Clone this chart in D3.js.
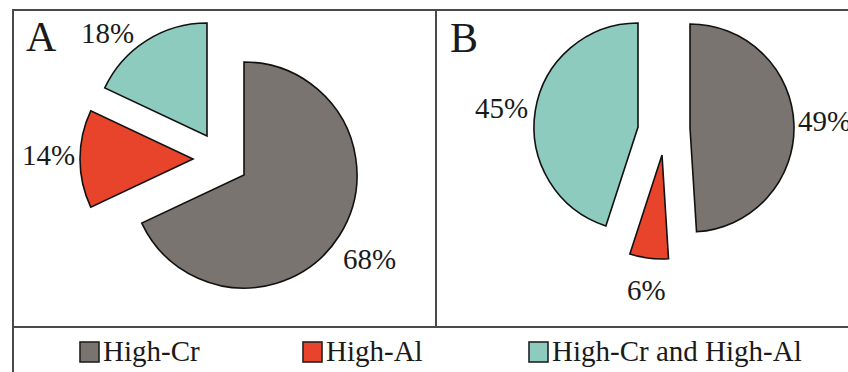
<!DOCTYPE html>
<html><head><meta charset="utf-8">
<script src="https://cdn.jsdelivr.net/npm/d3@7"></script>
<style>body{margin:0;background:#fff} svg{display:block}</style>
</head><body><svg id="c" width="848" height="372"></svg>
<script>
// ---- data ----
const categories = ["High-Cr", "High-Al", "High-Cr and High-Al"];
const panelNames = ["A", "B"];
const valuesA = [68, 14, 18];
const valuesB = [49, 6, 45];
const labelsA = ["68%", "14%", "18%"];
const labelsB = ["49%", "6%", "45%"];

// ---- style / layout ----
const colors = ["#7a7471", "#e8442b", "#8ccbbe"];
const FONT = "'Liberation Serif','Times New Roman',serif";
const layout = [
  { values: valuesA, labels: labelsA, cx: 244, cy: 175, r: 113,
    offsets: [[0, 0], [-51, -16], [-37, -39]],
    labelPos: [[343, 269], [22, 165], [81, 43]], letter: [26, 51] },
  { values: valuesB, labels: labelsB, cx: 690, cy: 128, r: 104,
    offsets: [[0, 0], [-28, 27], [-52, -1]],
    labelPos: [[798, 131], [627, 300], [475, 118]], letter: [450, 52] }
];
const legendX = [80, 303, 529];

const svg = d3.select("#c");
const color = d3.scaleOrdinal().domain(categories).range(colors);
const pie = d3.pie().sort(null).value(d => d);

// frame
const frame = svg.append("g").attr("stroke", "#4a4a4a").attr("stroke-width", 2);
frame.append("line").attr("x1", 13).attr("y1", 10).attr("x2", 13).attr("y2", 372);
frame.append("line").attr("x1", 12).attr("y1", 10).attr("x2", 848).attr("y2", 10);
frame.append("line").attr("x1", 436).attr("y1", 10).attr("x2", 436).attr("y2", 327);
frame.append("line").attr("x1", 13).attr("y1", 327).attr("x2", 848).attr("y2", 327);

layout.forEach((p, pi) => {
  const arc = d3.arc().innerRadius(0).outerRadius(p.r);
  const arcs = pie(p.values);
  const g = svg.append("g").attr("transform", `translate(${p.cx},${p.cy})`);
  g.selectAll("path").data(arcs).join("path")
    .attr("d", arc)
    .attr("transform", (d, i) => `translate(${p.offsets[i][0]},${p.offsets[i][1]})`)
    .attr("fill", (d, i) => color(categories[i]))
    .attr("stroke", "#111")
    .attr("stroke-width", 1.6)
    .attr("stroke-linejoin", "miter");
  svg.selectAll(null).data(p.labels).join("text")
    .attr("x", (d, i) => p.labelPos[i][0])
    .attr("y", (d, i) => p.labelPos[i][1])
    .attr("font-family", FONT).attr("font-size", 29).attr("fill", "#1a1a1a")
    .text(d => d);
  svg.append("text")
    .attr("x", p.letter[0]).attr("y", p.letter[1])
    .attr("font-family", FONT).attr("font-size", 42).attr("fill", "#1a1a1a")
    .text(panelNames[pi]);
});

// legend
const lg = svg.append("g");
categories.forEach((c, i) => {
  lg.append("rect").attr("x", legendX[i]).attr("y", 342).attr("width", 19).attr("height", 20)
    .attr("fill", color(c)).attr("stroke", "#222").attr("stroke-width", 1.6);
  lg.append("text").attr("x", legendX[i] + 23).attr("y", 361)
    .attr("font-family", FONT).attr("font-size", 29).attr("fill", "#1a1a1a")
    .text(c);
});
</script></body></html>
